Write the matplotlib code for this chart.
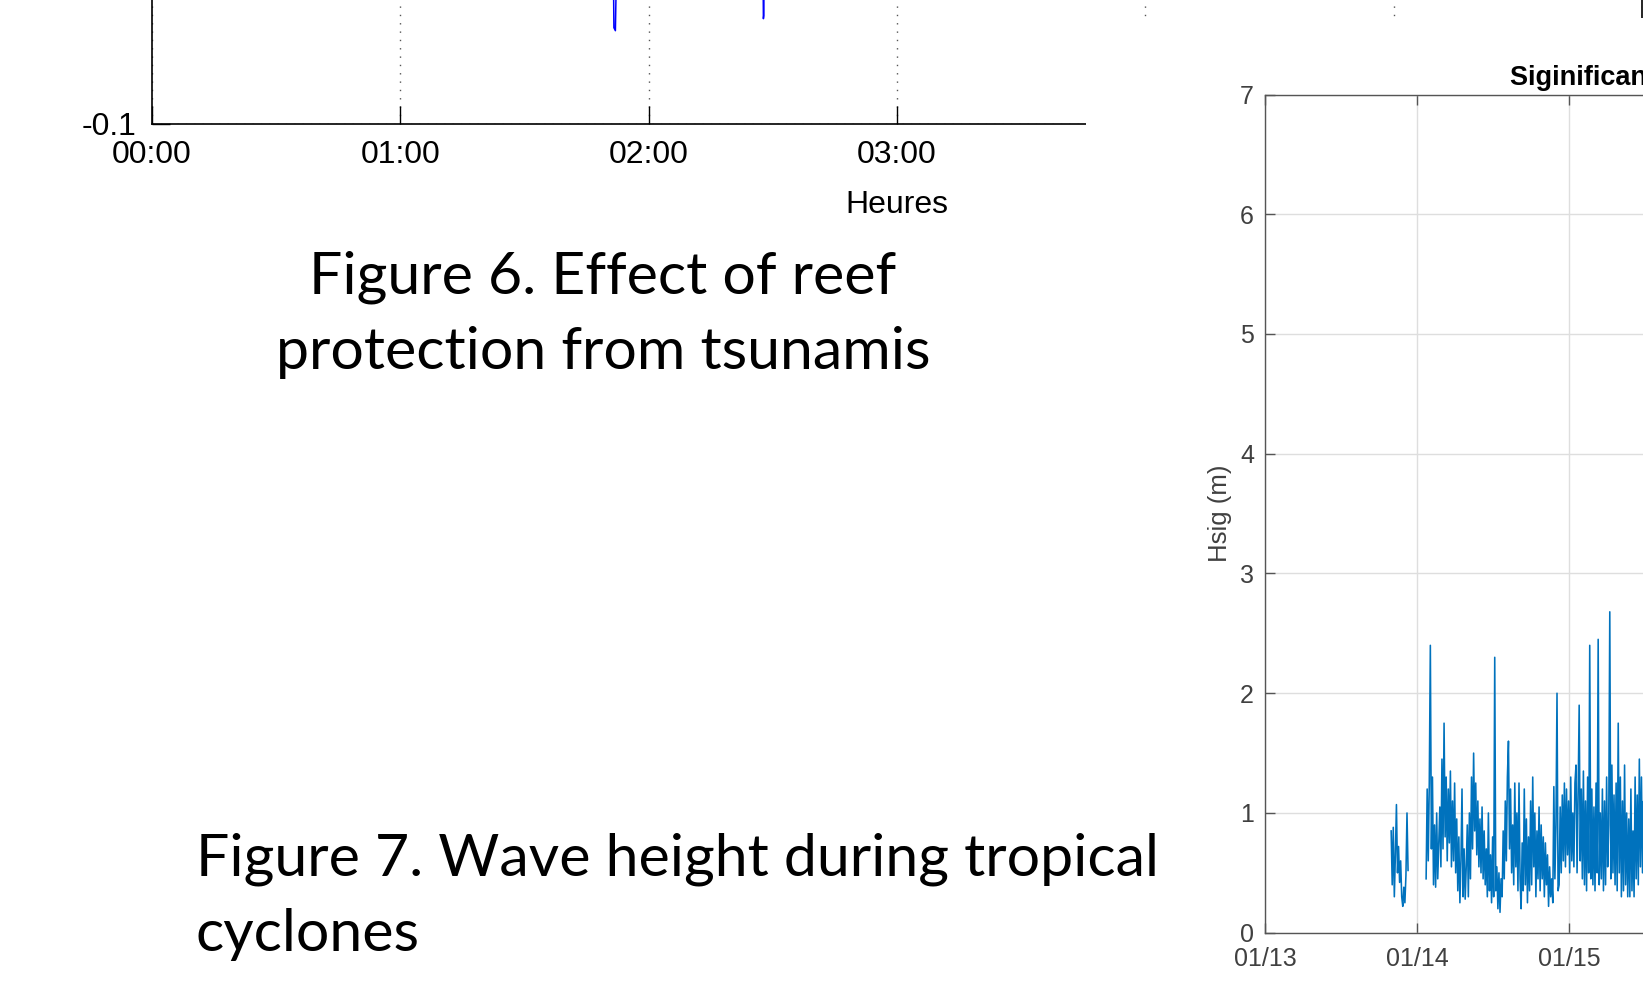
import numpy as np
import matplotlib
matplotlib.use('Agg')
import matplotlib.pyplot as plt
from matplotlib.patches import Rectangle

W, H = 1643, 982

# Figure 6 : maregraphe (heures depuis 00:00)
tsu_hours = [0.00, 0.50, 1.00, 1.50, 1.80, 1.856, 1.860, 1.866, 1.870, 1.874, 1.90,
             2.10, 2.40, 2.459, 2.462, 2.4635, 2.466, 2.60, 3.00, 3.50, 4.00, 5.00, 6.00]
tsu_level = [0.00, 0.01, 0.00, -0.01, 0.00, -0.03, -0.068, -0.069, -0.05, -0.02, 0.01,
             0.00, -0.01, -0.03, -0.065, -0.064, -0.03, 0.00, 0.01, 0.00, -0.01, 0.00, 0.00]
hour_ticks = [0, 1, 2, 3, 4, 5, 6]
# 04:00-06:00 sont caches par l'image de droite
hour_labels = ['00:00', '01:00', '02:00', '03:00', '', '', '']
level_ticks = [-0.1, 0.0, 0.1]
level_labels = ['-0.1', '', '']

# Figure 7 : Hsig, pas de 10 min (jour de janvier)
seg1_start = 13.83
seg1_hsig = [0.85, 0.40, 0.88, 0.30, 0.65, 1.07, 0.50, 0.72, 0.42, 0.60, 0.30, 0.22,
             0.38, 0.25, 0.48, 1.00, 0.52]
seg2_start = 14.06
seg2_hsig = [0.45, 1.20, 0.60, 1.25, 2.40, 0.70, 1.30, 0.40, 0.90, 0.38,
             1.00, 0.45, 0.75, 1.05, 0.55, 1.45, 0.70, 1.75, 0.80, 1.30,
             0.60, 1.20, 0.75, 1.35, 0.55, 1.10, 0.60, 1.25, 0.50, 0.95,
             0.35, 0.80, 0.25, 0.60, 1.20, 0.30, 0.70, 0.28, 0.55, 0.90,
             0.30, 1.00, 0.45, 1.30, 0.70, 1.50, 0.85, 1.25, 0.65, 1.10,
             0.55, 0.95, 0.50, 1.05, 0.45, 0.85, 0.40, 0.70, 0.30, 1.00,
             0.35, 0.65, 0.25, 0.80, 0.30, 2.30, 0.35, 0.55, 0.20, 0.50,
             0.17, 0.45, 0.30, 0.85, 0.45, 1.10, 0.60, 1.30, 1.60, 0.70,
             1.20, 0.50, 0.90, 0.40, 1.25, 0.55, 1.00, 0.35, 1.25, 0.45,
             0.20, 0.75, 0.35, 1.20, 0.40, 0.95, 0.25, 0.80, 0.35, 1.10,
             0.40, 1.30, 0.55, 1.00, 0.30, 0.85, 0.45, 1.05, 0.35, 0.90,
             0.45, 0.80, 0.30, 0.75, 0.40, 0.65, 0.22, 0.55, 0.30, 0.45,
             0.25, 1.22, 0.45, 0.90, 2.00, 0.35, 0.40, 1.05, 0.50, 1.15,
             0.60, 1.25, 0.55, 1.20, 0.65, 1.10, 0.50, 1.30, 0.60, 1.00,
             0.55, 1.25, 1.40, 0.50, 1.15, 1.90, 0.60, 1.20, 0.45, 1.35,
             0.40, 1.10, 0.35, 1.30, 0.50, 2.40, 0.45, 1.20, 0.40, 1.05,
             0.35, 1.25, 0.50, 2.45, 0.40, 1.00, 0.45, 1.20, 0.35, 1.10,
             0.40, 1.30, 0.55, 0.90, 2.68, 0.45, 1.40, 0.50, 1.15, 0.40,
             1.25, 0.35, 1.75, 0.50, 1.30, 0.30, 1.10, 0.35, 1.40, 0.40,
             1.00, 0.30, 0.95, 0.30, 1.20, 0.35, 0.85, 0.30, 1.30, 0.45,
             1.15, 0.40, 1.45, 0.55, 1.30, 0.50, 1.10, 0.45, 1.35, 0.60,
             1.20, 0.50, 1.00, 0.45, 0.90]
day_ticks = [13, 14, 15, 16, 17, 18]
day_labels = ['01/13', '01/14', '01/15', '', '', '']
hsig_ticks = [0, 1, 2, 3, 4, 5, 6, 7]

captions6 = ['Figure 6. Effect of reef', 'protection from tsunamis']
captions7 = ['Figure 7. Wave height during tropical', 'cyclones']

plt.rcParams['font.family'] = ['Liberation Sans', 'DejaVu Sans']

fig = plt.figure(figsize=(W / 100, H / 100), dpi=100)
fig.patch.set_facecolor('white')

# ---- Figure 6 (coupee en haut) ----
ax1 = fig.add_axes([152 / W, 1 - 123.7 / H, 1490 / W, 600 / H])
ax1.plot(tsu_hours, tsu_level, color='blue', lw=1.1)
ax1.set_xlim(0, 6)
ax1.set_ylim(-0.1, 0.1)
ax1.set_xticks(hour_ticks)
ax1.set_xticklabels(hour_labels)
ax1.set_yticks(level_ticks)
ax1.set_yticklabels(level_labels)
ax1.grid(True, linestyle=(0, (1, 5)), color='#555555', lw=1.0)
ax1.tick_params(direction='in', length=13, width=1, labelsize=23, colors='black',
                top=True, right=True)
ax1.tick_params(axis='x', pad=12)
ax1.tick_params(axis='y', pad=11)
for s in ax1.spines.values():
    s.set_color('black')
    s.set_linewidth(1.2)
ax1.set_xlabel('Heures', fontsize=23, labelpad=14)

# fond blanc de l'image de droite qui masque la suite de la figure 6
cover = Rectangle((1086 / W, 0), 1 - 1086 / W, 1 - 18 / H, transform=fig.transFigure,
                  facecolor='white', edgecolor='none', zorder=1)
fig.add_artist(cover)

# ---- Figure 7 (coupee a droite) ----
ax2 = fig.add_axes([1265 / W, 1 - 932.7 / H, 805.6 / W, 838.2 / H])
ax2.set_zorder(2)
t1 = seg1_start + np.arange(len(seg1_hsig)) / 144
t2 = seg2_start + np.arange(len(seg2_hsig)) / 144
ax2.plot(t1, seg1_hsig, color='#0072BD', lw=1.15)
ax2.plot(t2, seg2_hsig, color='#0072BD', lw=1.15)
ax2.set_xlim(13, 18.3)
ax2.set_ylim(0, 7)
ax2.set_xticks(day_ticks)
ax2.set_xticklabels(day_labels)
ax2.set_yticks(hsig_ticks)
ax2.grid(True, color='#dedede', lw=1.0)
ax2.set_axisbelow(True)
ax2.tick_params(direction='in', length=7, width=1, labelsize=18, colors='#555555',
                labelcolor='#404040', top=True, right=True)
ax2.tick_params(axis='x', pad=10)
ax2.tick_params(axis='y', pad=8)
for s in ax2.spines.values():
    s.set_color('#555555')
    s.set_linewidth(1.0)
ax2.set_ylabel('Hsig (m)', fontsize=18.5, color='#404040', labelpad=6)
ax2.set_title('Siginificant Wave Height', fontsize=19.5, fontweight='bold', pad=7)

# ---- legendes du document ----
cap_font = ['Lato', 'DejaVu Sans']
fig.text(603 / W, 1 - 294 / H, captions6[0], ha='center', va='baseline',
         fontsize=42.5, family=cap_font, zorder=3)
fig.text(603 / W, 1 - 369 / H, captions6[1], ha='center', va='baseline',
         fontsize=42.5, family=cap_font, zorder=3)
fig.text(196 / W, 1 - 876 / H, captions7[0], ha='left', va='baseline',
         fontsize=42.5, family=cap_font, zorder=3)
fig.text(196 / W, 1 - 951 / H, captions7[1], ha='left', va='baseline',
         fontsize=42.5, family=cap_font, zorder=3)

fig.savefig('out.png', dpi=100)
